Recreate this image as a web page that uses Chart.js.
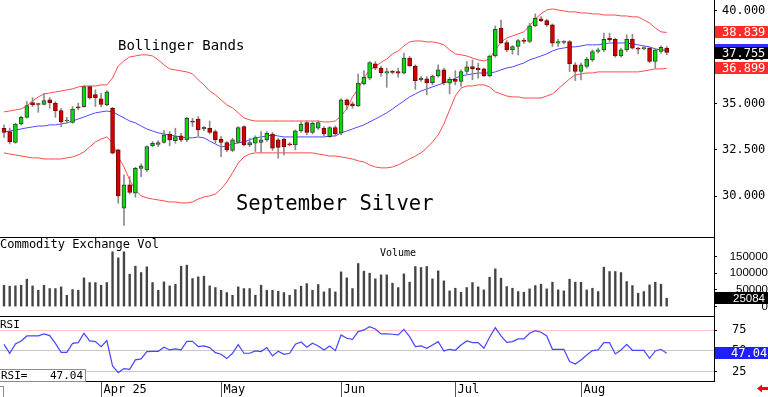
<!DOCTYPE html>
<html>
<head>
<meta charset="utf-8">
<script src="https://cdn.jsdelivr.net/npm/chart.js@4.4.1/dist/chart.umd.min.js"></script>
<style>
  html, body { margin: 0; padding: 0; background: #fff; }
  #wrap { position: relative; width: 768px; height: 397px; overflow: hidden; }
  #wrap canvas { position: absolute; left: 0; }
</style>
</head>
<body>
<div id="wrap">
  <canvas id="price" width="768" height="237" style="top:0"></canvas>
  <canvas id="volume" width="768" height="79" style="top:237px"></canvas>
  <canvas id="rsi" width="768" height="81" style="top:316px"></canvas>
</div>
<script>
// trading days, Mar 7 - Aug 22 2025
const dates = [
  '03-07','03-10','03-11','03-12','03-13','03-14','03-17','03-18','03-19','03-20','03-21','03-24','03-25','03-26','03-27','03-28','03-31',
  '04-01','04-02','04-03','04-04','04-07','04-08','04-09','04-10','04-11','04-14','04-15','04-16','04-17','04-21','04-22','04-23','04-24','04-25','04-28','04-29','04-30',
  '05-01','05-02','05-05','05-06','05-07','05-08','05-09','05-12','05-13','05-14','05-15','05-16','05-19','05-20','05-21','05-22','05-23','05-27','05-28','05-29','05-30',
  '06-02','06-03','06-04','06-05','06-06','06-09','06-10','06-11','06-12','06-13','06-16','06-17','06-18','06-20','06-23','06-24','06-25','06-26','06-27','06-30',
  '07-01','07-02','07-03','07-07','07-08','07-09','07-10','07-11','07-14','07-15','07-16','07-17','07-18','07-21','07-22','07-23','07-24','07-25','07-28','07-29','07-30','07-31',
  '08-01','08-04','08-05','08-06','08-07','08-08','08-11','08-12','08-13','08-14','08-15','08-18','08-19','08-20','08-21','08-22'
];
const monthTicks = ['Apr 25', 'May', 'Jun', 'Jul', 'Aug'];

const opens = [
  33.67,33.49,32.91,33.90,34.26,35.05,34.97,34.96,35.20,35.02,
  34.62,34.06,33.99,34.80,34.84,35.92,35.49,35.25,34.93,34.75,
  32.50,29.35,30.61,30.16,31.50,31.42,32.72,32.79,32.91,33.36,
  33.00,33.26,33.04,34.03,34.16,33.64,33.67,33.49,33.09,32.90,
  32.47,32.90,33.76,32.77,32.86,32.90,33.04,33.36,33.04,33.08,
  32.82,32.77,33.53,33.98,33.44,33.67,33.67,33.22,33.71,33.40,
  35.20,34.98,34.87,36.06,36.37,37.14,36.91,36.64,36.70,36.73,
  36.64,37.45,37.03,36.28,36.33,36.13,36.49,36.82,36.10,36.31,
  36.19,36.73,37.00,36.90,36.87,36.49,37.57,39.06,38.29,37.90,
  38.08,38.40,38.35,39.19,39.57,39.48,39.25,38.26,38.30,38.35,
  37.09,36.73,37.00,37.36,37.81,37.90,38.53,38.47,37.57,37.90,
  38.47,37.99,37.97,37.99,37.27,37.81,37.99
];
const highs = [
  33.85,33.67,33.94,34.33,35.11,35.32,35.02,35.56,35.32,35.11,
  34.75,34.26,34.84,35.02,35.95,35.95,35.74,35.56,35.70,34.80,
  32.54,31.15,31.06,31.56,31.75,32.72,32.95,33.00,33.54,33.49,
  33.67,33.40,34.26,34.21,34.30,33.76,34.06,33.58,33.22,32.95,
  33.13,33.76,33.80,33.13,33.26,33.49,33.49,33.44,33.13,33.13,
  32.90,33.58,34.03,34.06,34.03,34.06,33.76,33.76,33.80,35.25,
  35.25,35.09,36.60,36.78,37.27,37.27,37.03,36.91,36.80,36.91,
  37.72,37.54,37.09,36.46,36.46,36.55,37.09,36.91,36.42,36.78,
  36.82,37.27,37.36,37.18,36.91,37.62,39.19,39.51,38.40,38.13,
  38.47,38.52,39.33,39.84,39.69,39.55,39.30,38.47,38.40,38.40,
  37.21,37.18,37.50,37.90,37.99,38.80,38.80,38.53,37.99,38.71,
  38.74,38.03,38.08,38.04,37.99,38.11,38.08
];
const lows = [
  33.18,32.82,32.86,33.85,34.21,34.84,34.53,34.93,34.75,34.26,
  33.76,33.94,33.94,34.66,34.80,35.23,34.84,34.84,34.89,32.28,
  29.62,28.42,30.13,29.95,31.06,31.33,32.68,32.68,32.86,32.72,
  32.86,32.95,32.95,33.76,33.26,33.54,33.36,32.86,32.14,32.41,
  32.41,32.86,32.72,32.68,32.41,32.36,32.95,32.47,32.05,32.23,
  32.72,32.50,33.44,33.31,33.36,33.60,33.26,33.18,33.26,33.31,
  34.66,34.75,34.84,36.01,36.28,36.82,36.46,35.88,36.60,36.42,
  36.60,37.00,35.77,36.19,35.47,36.01,36.42,36.01,35.52,36.01,
  35.92,36.60,36.28,36.37,36.46,36.44,37.50,38.24,37.80,37.66,
  37.63,38.25,38.29,39.16,39.42,39.16,38.08,38.08,38.22,36.73,
  36.24,36.28,36.91,37.27,37.72,37.81,38.35,37.50,37.50,37.81,
  37.94,37.68,37.90,37.21,36.91,37.72,37.63
];
const closes = [
  33.45,32.95,33.90,34.26,34.89,34.93,34.95,35.16,35.05,34.62,
  34.03,34.10,34.71,34.77,35.92,35.32,35.32,34.96,35.63,32.32,
  30.02,30.61,30.20,31.51,31.64,32.68,32.86,32.90,33.31,33.04,
  33.22,33.04,34.21,34.00,33.58,33.72,33.44,33.04,32.90,32.50,
  33.04,33.71,32.77,32.90,33.17,33.04,33.40,32.59,32.64,32.68,
  32.77,33.53,33.89,33.44,33.94,33.98,33.36,33.71,33.36,35.20,
  34.93,34.87,36.10,36.42,37.21,36.91,36.67,36.73,36.68,36.64,
  37.45,37.03,36.24,36.37,36.13,36.49,36.82,36.13,36.31,36.19,
  36.73,36.99,36.87,36.82,36.49,37.57,39.01,38.29,37.90,38.08,
  38.40,38.36,39.19,39.60,39.48,39.25,38.26,38.35,38.33,37.14,
  36.73,37.09,37.39,37.81,37.90,38.47,38.44,37.57,37.90,38.47,
  37.99,37.93,38.00,37.27,37.90,38.04,37.755
];
const upperBand = [
  34.55,34.60,34.66,34.71,34.87,35.14,35.36,35.52,35.57,35.63,
  35.68,35.74,35.79,35.90,35.95,35.95,35.95,36.01,36.01,36.38,
  37.03,37.30,37.52,37.57,37.63,37.63,37.57,37.36,37.09,36.87,
  36.82,36.76,36.71,36.60,36.28,36.01,35.68,35.47,35.20,34.93,
  34.77,34.50,34.23,34.12,34.06,34.06,34.06,34.06,34.06,34.06,
  34.06,34.06,34.06,34.06,34.06,34.06,34.01,34.01,34.06,34.33,
  34.71,35.36,35.79,36.38,36.82,37.00,37.22,37.41,37.68,37.84,
  38.11,38.33,38.38,38.38,38.33,38.33,38.27,38.17,37.90,37.68,
  37.63,37.57,37.46,37.36,37.30,37.41,37.90,38.33,38.54,38.65,
  38.76,38.87,39.19,39.57,39.84,40.05,40.11,40.05,40.00,39.95,
  39.95,39.89,39.89,39.84,39.84,39.78,39.78,39.78,39.73,39.73,
  39.68,39.68,39.51,39.35,39.08,38.87,38.839
];
const midBand = [
  33.47,33.52,33.58,33.63,33.69,33.74,33.79,33.79,33.85,33.85,
  33.90,33.96,34.06,34.17,34.28,34.39,34.50,34.55,34.60,34.55,
  34.39,34.23,34.06,33.96,33.79,33.63,33.52,33.42,33.36,33.31,
  33.25,33.20,33.15,33.15,33.20,33.15,32.98,32.82,32.66,32.71,
  32.82,32.88,32.93,33.04,33.15,33.20,33.25,33.31,33.25,33.20,
  33.20,33.20,33.20,33.20,33.20,33.20,33.20,33.25,33.25,33.42,
  33.52,33.63,33.74,33.85,34.01,34.17,34.33,34.50,34.71,34.93,
  35.14,35.36,35.52,35.68,35.79,35.90,36.01,36.11,36.22,36.38,
  36.49,36.55,36.60,36.65,36.65,36.65,36.71,36.82,36.92,36.98,
  37.09,37.19,37.36,37.46,37.57,37.68,37.84,37.95,38.00,38.06,
  38.06,38.11,38.17,38.17,38.17,38.22,38.27,38.27,38.27,38.27,
  38.22,38.17,38.11,38.06,37.95,37.90,37.869
];
const lowerBand = [
  32.34,32.28,32.23,32.17,32.12,32.07,32.07,32.01,32.01,32.01,
  32.01,32.07,32.12,32.23,32.39,32.66,32.93,33.09,33.20,32.88,
  32.12,31.58,30.88,30.34,30.02,29.91,29.85,29.80,29.75,29.69,
  29.69,29.64,29.64,29.69,29.85,29.96,30.02,30.12,30.39,30.77,
  31.26,31.80,32.12,32.28,32.34,32.34,32.34,32.34,32.34,32.34,
  32.34,32.34,32.34,32.34,32.34,32.28,32.23,32.17,32.17,32.12,
  32.07,32.01,31.91,31.85,31.69,31.58,31.53,31.53,31.58,31.69,
  31.85,32.01,32.17,32.34,32.61,32.93,33.31,33.90,34.66,35.41,
  35.84,35.95,35.95,36.01,36.01,35.90,35.63,35.52,35.41,35.36,
  35.36,35.30,35.30,35.30,35.30,35.41,35.52,35.79,36.06,36.33,
  36.55,36.60,36.65,36.65,36.71,36.71,36.71,36.71,36.71,36.71,
  36.71,36.71,36.76,36.82,36.87,36.87,36.899
];
const volumes = [
  64000,61000,62000,64000,82000,62000,49000,64000,54000,54000,
  59000,34000,51000,49000,86000,72000,72000,64000,72000,164000,
  146000,164000,97000,121000,102000,119000,72000,49000,74000,62000,
  67000,121000,124000,84000,89000,91000,62000,57000,49000,42000,
  34000,59000,54000,54000,34000,64000,49000,49000,46000,42000,
  34000,51000,61000,69000,49000,66000,44000,54000,44000,104000,
  86000,54000,129000,106000,100000,83000,95000,95000,70000,57000,
  98000,73000,120000,117000,120000,83000,107000,77000,47000,55000,
  43000,57000,72000,59000,50000,88000,113000,85000,60000,55000,
  45000,43000,53000,63000,67000,53000,73000,50000,47000,82000,
  73000,73000,50000,55000,45000,118000,105000,105000,102000,75000,
  63000,40000,45000,65000,73000,67000,25084
];
const rsi = [
  57.8,47.0,58.2,61.9,67.9,67.9,67.9,70.3,68.3,59.0,
  48.2,48.2,59.0,59.8,71.1,61.9,61.0,55.0,62.3,31.7,
  23.7,28.5,27.7,39.0,40.2,49.0,49.4,49.4,54.2,51.0,
  52.2,51.0,61.4,61.4,55.0,55.8,53.8,47.8,45.8,40.6,
  47.0,57.4,47.0,47.0,49.8,49.0,53.8,43.8,49.4,45.8,
  47.0,57.8,60.6,54.2,59.0,55.8,51.0,55.8,50.2,69.1,
  65.1,63.9,73.1,75.1,79.1,76.3,70.3,70.3,69.9,69.1,
  75.9,67.1,55.0,55.8,53.0,57.0,61.0,49.8,51.8,50.6,
  57.0,61.9,59.8,59.8,53.0,66.3,77.9,67.9,60.2,61.0,
  64.3,64.3,71.1,74.3,72.3,67.9,51.8,51.8,51.8,37.0,
  34.1,38.9,45.0,50.2,51.0,59.8,59.8,46.2,51.0,57.8,
  50.6,50.6,50.6,41.0,49.8,51.8,47.04
];

const priceTicks = [30, 32.5, 35, 37.5, 40];
const volumeTicks = [0, 50000, 100000, 150000];
const rsiTicks = [25, 50, 75];

const MONO = '"DejaVu Sans Mono", monospace';
const SANS = '"Liberation Sans", Arial, sans-serif';
const AXIS_W = 54;
const last = closes.length - 1;

const idx = closes.map((_, i) => i);
const pts = arr => arr.map((v, i) => ({ x: i, y: v }));
// first trading day of each month gets a separator on the time axis
const monthStarts = idx.filter(i => i > 0 && dates[i].slice(0, 2) !== dates[i - 1].slice(0, 2));

const up = i => closes[i] >= opens[i];
const bodies = idx.map(i => ({ x: i, y: [Math.min(opens[i], closes[i]), Math.max(opens[i], closes[i])] }));
const wicks = idx.map(i => ({ x: i, y: [lows[i], highs[i]] }));

// keep every panel's plot area flush with the canvas and the right axis 54px wide
function fixedAxis(s) {
  s.width = AXIS_W;
  s.paddingTop = 0;
  s.paddingBottom = 0;
}
function timeAxis() {
  return { type: 'linear', min: -0.7, max: 124.28, offset: false, display: false };
}
function setTicks(values) {
  return s => { s.ticks = values.map(v => ({ value: v })); };
}
const baseOptions = {
  responsive: false,
  animation: false,
  events: [],
  plugins: { legend: { display: false }, tooltip: { enabled: false } }
};

function drawTag(ctx, y, fill, text, font, tx, align) {
  ctx.fillStyle = fill;
  ctx.fillRect(715, Math.round(y) - 6, 53, 12);
  if (!text) return;
  ctx.fillStyle = '#fff';
  ctx.font = font;
  ctx.textAlign = align;
  ctx.textBaseline = 'middle';
  ctx.fillText(text, tx, Math.round(y) + 0.5);
}

const priceOverlay = {
  id: 'priceOverlay',
  afterDraw(chart) {
    const { ctx } = chart;
    const y = chart.scales.y;
    ctx.save();
    ctx.fillStyle = '#000';
    ctx.textAlign = 'left';
    ctx.textBaseline = 'alphabetic';
    ctx.font = '14px ' + MONO;
    ctx.fillText('Bollinger Bands', 118, 50);
    ctx.font = '20.5px ' + MONO;
    ctx.fillText('September Silver', 236, 210);
    const f = '12px ' + MONO;
    drawTag(ctx, y.getPixelForValue(midBand[last]), '#2f2fff', null);
    drawTag(ctx, y.getPixelForValue(upperBand[last]), '#ff2a2a', upperBand[last].toFixed(3), f, 722, 'left');
    drawTag(ctx, y.getPixelForValue(lowerBand[last]), '#ff2a2a', lowerBand[last].toFixed(3), f, 722, 'left');
    drawTag(ctx, y.getPixelForValue(closes[last]), '#000', closes[last].toFixed(3), f, 722, 'left');
    ctx.restore();
  }
};

const volumeOverlay = {
  id: 'volumeOverlay',
  afterDraw(chart) {
    const { ctx, chartArea: a } = chart;
    ctx.save();
    ctx.strokeStyle = '#000';
    ctx.lineWidth = 1;
    ctx.beginPath();
    ctx.moveTo(0, 0.5);
    ctx.lineTo(a.right, 0.5);
    ctx.stroke();
    ctx.fillStyle = '#000';
    ctx.textBaseline = 'alphabetic';
    ctx.font = '12px ' + MONO;
    ctx.fillText('Commodity Exchange Vol', 0, 11);
    ctx.font = '10px ' + MONO;
    ctx.fillText('Volume', 380, 19);
    drawTag(ctx, chart.scales.y.getPixelForValue(volumes[last]), '#000', String(volumes[last]), '11.5px ' + SANS, 765, 'right');
    ctx.restore();
  }
};

const rsiOverlay = {
  id: 'rsiOverlay',
  afterDraw(chart) {
    const { ctx, chartArea: a } = chart;
    const x = chart.scales.x;
    ctx.save();
    ctx.strokeStyle = '#000';
    ctx.lineWidth = 1;
    ctx.beginPath();
    ctx.moveTo(0, 0.5);
    ctx.lineTo(a.right, 0.5);
    ctx.moveTo(0, a.bottom + 0.5);
    ctx.lineTo(a.right + 0.5, a.bottom + 0.5);
    ctx.stroke();

    // month separators and labels
    ctx.strokeStyle = '#555';
    ctx.fillStyle = '#000';
    ctx.font = '12px ' + MONO;
    ctx.textAlign = 'left';
    ctx.textBaseline = 'alphabetic';
    monthStarts.forEach((i, k) => {
      const px = Math.round(x.getPixelForValue(i)) + 0.5;
      ctx.beginPath();
      ctx.moveTo(px, a.bottom + 1);
      ctx.lineTo(px, chart.height);
      ctx.stroke();
      ctx.fillText(monthTicks[k], px + 2, a.bottom + 12);
    });

    ctx.font = '11px ' + MONO;
    ctx.fillText('RSI', 0, 12);
    // value readout box, bottom left
    ctx.fillStyle = '#fff';
    ctx.fillRect(0, 53, 86, 12);
    ctx.strokeStyle = '#8c8c8c';
    ctx.strokeRect(-0.5, 53.5, 86, 12);
    ctx.strokeRect(-5.5, 70.5, 9, 12);
    ctx.fillStyle = '#000';
    ctx.fillText('RSI=', 1, 63);
    ctx.textAlign = 'right';
    ctx.fillText(rsi[last].toFixed(2), 83, 63);

    drawTag(ctx, chart.scales.y.getPixelForValue(rsi[last]), '#1e1eff', rsi[last].toFixed(2), '12px ' + MONO, 731, 'left');

    // red scroll arrow, bottom right
    ctx.fillStyle = '#ff0000';
    ctx.beginPath();
    ctx.moveTo(757, 72.5);
    ctx.lineTo(762, 68.5);
    ctx.lineTo(762, 71);
    ctx.lineTo(768, 71);
    ctx.lineTo(768, 74);
    ctx.lineTo(762, 74);
    ctx.lineTo(762, 76.5);
    ctx.closePath();
    ctx.fill();
    ctx.restore();
  }
};

new Chart(document.getElementById('price'), {
  type: 'bar',
  data: {
    datasets: [
      {
        label: 'Body',
        data: bodies,
        backgroundColor: idx.map(i => up(i) ? '#00e000' : '#d40000'),
        borderColor: idx.map(i => up(i) ? '#3c3c3c' : '#7a0000'),
        borderWidth: 1,
        borderSkipped: false,
        barThickness: 4,
        minBarLength: 1,
        grouped: false,
        order: 0
      },
      {
        label: 'Range',
        data: wicks,
        backgroundColor: '#8c8c8c',
        barThickness: 1,
        grouped: false,
        order: 1
      },
      { type: 'line', label: 'Upper', data: pts(upperBand), borderColor: '#ff4a4a', borderWidth: 1, pointRadius: 0, order: 2 },
      { type: 'line', label: 'Middle', data: pts(midBand), borderColor: '#4a4aff', borderWidth: 1, pointRadius: 0, order: 2 },
      { type: 'line', label: 'Lower', data: pts(lowerBand), borderColor: '#ff4a4a', borderWidth: 1, pointRadius: 0, order: 2 }
    ]
  },
  options: {
    ...baseOptions,
    scales: {
      x: timeAxis(),
      y: {
        position: 'right',
        min: 27.8,
        max: 40.59,
        afterBuildTicks: setTicks(priceTicks),
        afterFit: fixedAxis,
        border: { display: true, color: '#000' },
        grid: { drawOnChartArea: false, tickLength: 3, color: '#000' },
        ticks: { padding: 5, color: '#000', font: { family: MONO, size: 12 }, callback: v => Number(v).toFixed(3) }
      }
    }
  },
  plugins: [priceOverlay]
});

new Chart(document.getElementById('volume'), {
  type: 'bar',
  data: {
    datasets: [{
      label: 'Volume',
      data: pts(volumes),
      backgroundColor: '#444444',
      barThickness: 1.7,
      grouped: false
    }]
  },
  options: {
    ...baseOptions,
    scales: {
      x: timeAxis(),
      y: {
        position: 'right',
        min: -28144,
        max: 208383,
        afterBuildTicks: setTicks(volumeTicks),
        afterFit: fixedAxis,
        border: { display: true, color: '#000' },
        grid: { drawOnChartArea: false, tickLength: 3, color: '#000' },
        ticks: { padding: 8, crossAlign: 'far', autoSkip: false, color: '#000', font: { family: SANS, size: 11.5 }, callback: v => String(v) }
      }
    }
  },
  plugins: [volumeOverlay]
});

new Chart(document.getElementById('rsi'), {
  type: 'line',
  data: {
    datasets: [{
      label: 'RSI',
      data: pts(rsi),
      borderColor: '#4646ff',
      borderWidth: 1.2,
      pointRadius: 0
    }]
  },
  options: {
    ...baseOptions,
    layout: { padding: { bottom: 16 } },
    scales: {
      x: timeAxis(),
      y: {
        position: 'right',
        min: 13.6,
        max: 91.9,
        afterBuildTicks: setTicks(rsiTicks),
        afterFit: fixedAxis,
        border: { display: true, color: '#000' },
        grid: {
          tickLength: 3,
          tickColor: '#000',
          color: c => c.tick && c.tick.value === 75 ? '#ffc4c4' : (c.tick && c.tick.value === 25 ? '#c4c4ff' : '#c8c8c8')
        },
        ticks: { padding: 15, autoSkip: false, color: '#000', font: { family: MONO, size: 12 } }
      }
    }
  },
  plugins: [rsiOverlay]
});
</script>
</body>
</html>
